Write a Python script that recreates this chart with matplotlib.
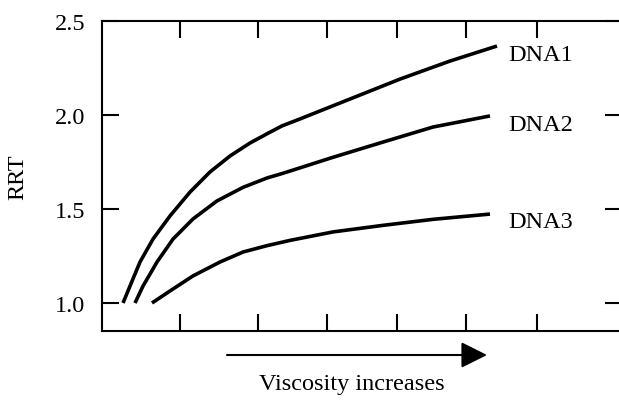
import matplotlib.pyplot as plt

plt.rcParams['font.family'] = ['Liberation Serif', 'DejaVu Serif']

# curves (x in arbitrary viscosity units)
dna1_x = [2.1, 2.8, 3.8, 5.1, 6.8, 8.8, 10.8, 12.8, 14.8, 16.5, 18.0, 19.8, 24.8, 29.8, 34.8, 39.5]
dna1_y = [1.0, 1.090, 1.218, 1.340, 1.463, 1.590, 1.697, 1.782, 1.851, 1.900, 1.942, 1.979, 2.085, 2.191, 2.287, 2.367]

dna2_x = [3.3, 4.1, 5.5, 7.1, 9.1, 11.5, 14.1, 16.5, 18.1, 23.1, 28.1, 33.1, 38.8]
dna2_y = [1.0, 1.090, 1.218, 1.340, 1.447, 1.543, 1.615, 1.665, 1.690, 1.775, 1.856, 1.936, 1.995]

dna3_x = [5.0, 6.8, 9.1, 11.8, 14.1, 16.5, 18.8, 23.1, 28.1, 33.1, 38.8]
dna3_y = [1.0, 1.064, 1.144, 1.218, 1.271, 1.305, 1.333, 1.378, 1.413, 1.445, 1.473]

labels = ['DNA1', 'DNA2', 'DNA3']
label_y = [2.324, 1.952, 1.436]

x_ticks = [7.8, 15.6, 22.5, 29.5, 36.4, 43.5]
y_ticks = [1.0, 1.5, 2.0, 2.5]

fig = plt.figure(figsize=(6.19, 4.02), dpi=100)
ax = fig.add_axes([102 / 619, 70 / 402, 520 / 619, 310 / 402])

for xs, ys in [(dna1_x, dna1_y), (dna2_x, dna2_y), (dna3_x, dna3_y)]:
    ax.plot(xs, ys, color='black', lw=2.6, solid_capstyle='butt',
            solid_joinstyle='round')

for name, yy in zip(labels, label_y):
    ax.text(40.6, yy, name, fontsize=17.5, va='center', ha='left')

ax.set_xlim(0, 52)
ax.set_ylim(0.851, 2.5)
ax.set_xticks(x_ticks)
ax.set_xticklabels([])
ax.set_yticks(y_ticks)
ax.set_yticklabels(['1.0', '1.5', '2.0', '2.5'])
ax.tick_params(direction='in', length=12, width=1.5, top=True, right=True,
               labelsize=17.5, pad=12)
for sp in ax.spines.values():
    sp.set_linewidth(1.5)

ax.set_ylabel('RRT', fontsize=17.5, labelpad=19)

# arrow and caption below the axes, in figure coords
ax.annotate('', xy=(487 / 619, 46 / 402), xytext=(227 / 619, 46 / 402),
            xycoords='figure fraction', textcoords='figure fraction',
            arrowprops=dict(arrowstyle='-|>,head_length=1.0,head_width=0.5',
                            mutation_scale=16, color='black', lw=1.5,
                            shrinkA=0, shrinkB=0))
fig.text(352 / 619, 17 / 402, 'Viscosity increases', fontsize=17.5,
         ha='center', va='center')

fig.savefig('out.png', dpi=100)
